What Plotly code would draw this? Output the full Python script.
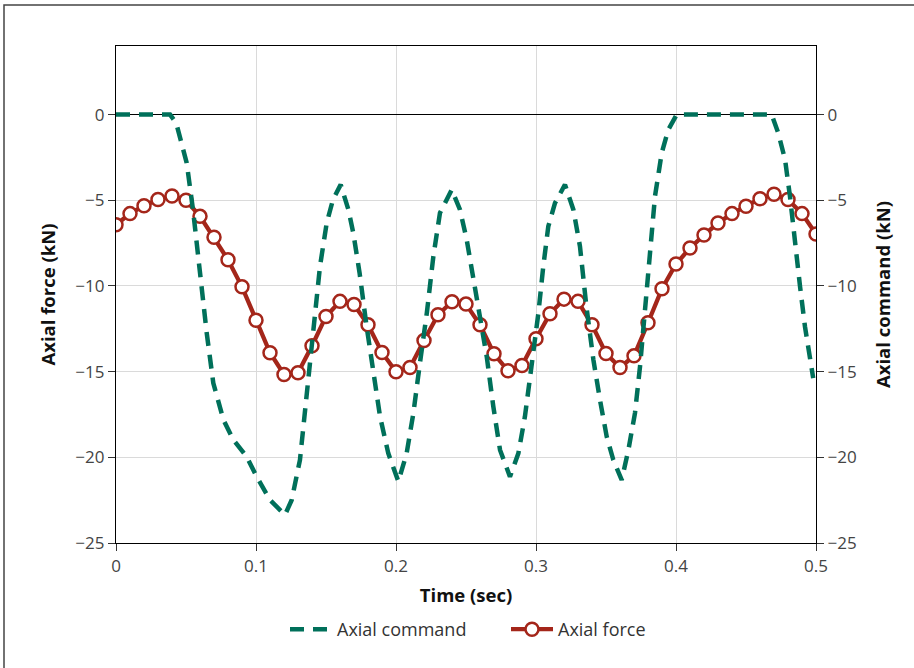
import plotly.graph_objects as go

# Axial force (measured), sampled every 0.01 s
force_t = [round(i * 0.01, 2) for i in range(51)]
force_v = [-6.43, -5.78, -5.32, -4.96, -4.75, -5.0, -5.94, -7.16, -8.47, -10.05,
           -12.0, -13.9, -15.17, -15.07, -13.49, -11.78, -10.9, -11.08, -12.27, -13.88,
           -15.01, -14.76, -13.18, -11.68, -10.92, -11.06, -12.27, -13.96, -14.95, -14.64,
           -13.08, -11.62, -10.77, -10.9, -12.27, -13.94, -14.76, -14.08, -12.15, -10.16,
           -8.72, -7.79, -7.03, -6.33, -5.78, -5.35, -4.91, -4.65, -4.96, -5.78, -6.97]

# Axial command (dashed)
cmd_t = [0.0, 0.02, 0.0386, 0.043, 0.0505, 0.055, 0.06, 0.0648, 0.0695, 0.0767, 0.0838,
         0.0933, 0.1005, 0.11, 0.1207, 0.1255, 0.1314, 0.136, 0.141, 0.1457, 0.1505,
         0.155, 0.1605, 0.166, 0.1695, 0.174, 0.179, 0.1838, 0.1886, 0.1945, 0.2017,
         0.2076, 0.2124, 0.2171, 0.222, 0.2267, 0.2314, 0.2398, 0.2457, 0.2505, 0.2552,
         0.26, 0.2648, 0.2695, 0.2743, 0.2814, 0.2874, 0.2921, 0.2969, 0.3017, 0.3052,
         0.3088, 0.3136, 0.3207, 0.3267, 0.3314, 0.336, 0.341, 0.3457, 0.3505, 0.3552,
         0.3612, 0.366, 0.3707, 0.3743, 0.3779, 0.3814, 0.385, 0.3898, 0.3945, 0.4005,
         0.43, 0.4683, 0.473, 0.4779, 0.4814, 0.485, 0.4886, 0.4921, 0.4957, 0.498]
cmd_v = [0.0, 0.0, 0.0, -0.49, -2.82, -5.55, -9.25, -12.75, -15.67, -17.8, -18.98,
         -19.96, -21.13, -22.49, -23.36, -22.49, -20.15, -16.65, -12.75, -8.86, -6.33,
         -4.96, -4.09, -5.55, -6.91, -9.25, -12.36, -15.09, -17.62, -19.77, -21.41,
         -19.77, -17.43, -14.5, -11.59, -8.27, -5.74, -4.38, -5.55, -7.3, -9.44,
         -11.78, -14.12, -17.03, -19.57, -21.13, -19.77, -17.62, -14.7, -11.59, -8.86,
         -6.52, -5.16, -4.09, -5.55, -7.69, -11.2, -14.31, -16.65, -18.79, -20.15,
         -21.32, -19.57, -17.42, -14.7, -11.2, -7.69, -4.77, -2.24, -0.88, 0.0,
         0.0, 0.0, -1.07, -2.63, -4.77, -7.69, -10.03, -12.36, -14.31, -15.38]

x_ticks = [0, 0.1, 0.2, 0.3, 0.4, 0.5]
x_ticklabels = ["0", "0.1", "0.2", "0.3", "0.4", "0.5"]
y_ticks = [0, -5, -10, -15, -20, -25]
y_ticklabels = ["0", "\u22125", "\u221210", "\u221215", "\u221220", "\u221225"]

GREEN = "#00705A"
RED = "#A4261A"
FONT = "Open Sans"

fig = go.Figure()
fig.add_trace(go.Scatter(
    x=force_t, y=force_v, name="Axial force", mode="lines+markers",
    line=dict(color=RED, width=4.3),
    marker=dict(symbol="circle", size=13, color="white",
                line=dict(color=RED, width=2.5)),
    legendrank=2,
))
fig.add_trace(go.Scatter(
    x=cmd_t, y=cmd_v, name="Axial command", mode="lines",
    line=dict(color=GREEN, width=4.5, dash="14px,9px"),
    legendrank=1,
))
# invisible trace to activate the right axis
fig.add_trace(go.Scatter(x=[0], y=[0], yaxis="y2", mode="markers",
                         marker=dict(opacity=0), showlegend=False, hoverinfo="skip"))

axis_common = dict(
    showline=True, linecolor="black", linewidth=1.3,
    ticks="outside", ticklen=7, tickcolor="#333", tickwidth=1.3,
    tickfont=dict(family=FONT, size=17, color="#444"),
)
TITLE_FONT = dict(family=FONT, size=18.5, color="#111")

W, H = 914, 668
L, R, T, B = 116, 98, 46, 125
PW, PH = W - L - R, H - T - B

fig.update_layout(
    width=W, height=H,
    margin=dict(l=L, r=R, t=T, b=B),
    paper_bgcolor="white", plot_bgcolor="white",
    font=dict(family=FONT, color="#222"),
    xaxis=dict(
        range=[0, 0.5], tickvals=x_ticks, ticktext=x_ticklabels,
        showgrid=True, gridcolor="#DADADA", gridwidth=1.3,
        zeroline=False, mirror=True,
        title=dict(text="<b>Time (sec)</b>", font=TITLE_FONT, standoff=13),
        **axis_common,
    ),
    yaxis=dict(
        range=[-25, 4], tickvals=y_ticks, ticktext=y_ticklabels,
        showgrid=True, gridcolor="#DADADA", gridwidth=1.3,
        zeroline=True, zerolinecolor="black", zerolinewidth=1.3,
        mirror=False,
        title=dict(text="<b>Axial force (kN)</b>", font=TITLE_FONT, standoff=14),
        **axis_common,
    ),
    yaxis2=dict(
        range=[-25, 4], tickvals=y_ticks, ticktext=y_ticklabels,
        overlaying="y", side="right", showgrid=False, zeroline=False,
        title=dict(text="<b>Axial command (kN)</b>", font=TITLE_FONT, standoff=21),
        **axis_common,
    ),
    legend=dict(
        orientation="h", x=(285 - L) / PW, xanchor="left",
        y=-(611 - 543) / PH, yanchor="top",
        font=dict(family=FONT, size=18, color="#333"),
        itemwidth=42, entrywidth=164, entrywidthmode="pixels", tracegroupgap=0,
    ),
    showlegend=True,
)

# outer frame
fig.add_shape(type="rect", xref="paper", yref="paper",
              x0=(4 - L) / PW, x1=(W + 10 - L) / PW,
              y0=-(H - 543 + 10) / PH, y1=1 + (46 - 5) / PH,
              line=dict(color="#444", width=1.5), fillcolor="rgba(0,0,0,0)", layer="below")

fig.write_html("out.html",
               config={"displayModeBar": False},
               post_script="document.body.style.margin='0';document.body.style.padding='0';"
                           "document.body.style.overflow='hidden';")
